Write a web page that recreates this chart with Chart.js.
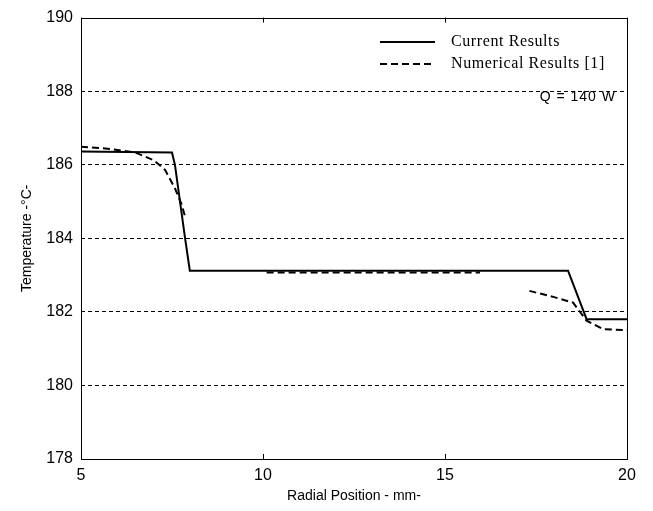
<!DOCTYPE html>
<html>
<head>
<meta charset="utf-8">
<script src="https://cdn.jsdelivr.net/npm/chart.js@4/dist/chart.umd.min.js"></script>
<style>
html,body{margin:0;padding:0;background:#fff;}
#wrap{width:653px;height:511px;position:relative;}
</style>
</head>
<body>
<div id="wrap"><canvas id="c" width="653" height="511"></canvas></div>
<script>
// ---- data ----
const currentX = [5, 7.5, 7.58, 7.86, 7.99, 18.38, 18.89, 20];
const currentY = [186.36, 186.33, 186.0, 184.0, 183.12, 183.12, 181.8, 181.8];

const numericalX = [5, 5.8, 6.5, 7.0, 7.31, 7.58, 7.77, 7.87, null, 10.1, 15.96, null, 17.32, 18.0, 18.52, 18.89, 19.35, 20];
const numericalY = [186.49, 186.43, 186.33, 186.12, 185.86, 185.36, 184.91, 184.55, null, 183.07, 183.07, null, 182.57, 182.4, 182.25, 181.76, 181.53, 181.5];

const xTicks = [5, 10, 15, 20];
const yTicks = [178, 180, 182, 184, 186, 188, 190];

const seriesNames = ['Current Results', 'Numerical Results [1]'];
const xTitle = 'Radial Position - mm-';
const yTitle = 'Temperature -°C-';
const annotationText = 'Q = 140 W';

function toPoints(xs, ys){
  return xs.map((x,i)=> x===null ? {x:null,y:null} : {x:x, y:ys[i]});
}

const framePlugin = {
  id:'frame',
  afterDatasetsDraw(chart){
    const {ctx, chartArea:a, scales} = chart;
    ctx.save();
    ctx.strokeStyle = '#000';
    ctx.lineWidth = 1;
    ctx.setLineDash([]);
    ctx.strokeRect(Math.round(a.left)+0.5, Math.round(a.top)+0.5, Math.round(a.right-a.left), Math.round(a.bottom-a.top));
    // inward ticks on x axis (bottom and top)
    ctx.beginPath();
    scales.x.ticks.forEach(t=>{
      const px = Math.round(scales.x.getPixelForValue(t.value))+0.5;
      ctx.moveTo(px, a.bottom); ctx.lineTo(px, a.bottom-5);
      ctx.moveTo(px, a.top); ctx.lineTo(px, a.top+5);
    });
    ctx.stroke();
    // legend
    const ds = chart.data.datasets;
    const lx1 = 380, lx2 = 435, tx = 451;
    const rows = [42, 64];
    ds.forEach((d,i)=>{
      ctx.beginPath();
      ctx.lineWidth = d.borderWidth;
      ctx.strokeStyle = d.borderColor;
      ctx.setLineDash(d.borderDash || []);
      ctx.moveTo(lx1, rows[i]); ctx.lineTo(lx2, rows[i]);
      ctx.stroke();
      ctx.setLineDash([]);
      ctx.fillStyle = '#000';
      ctx.font = '16px "Liberation Serif", "Times New Roman", serif';
      ctx.letterSpacing = '0.6px';
      ctx.textBaseline = 'middle';
      ctx.textAlign = 'left';
      ctx.fillText(d.label, tx, rows[i]);
    });
    ctx.font = '14px "Liberation Sans", Arial, sans-serif';
    ctx.letterSpacing = '1px';
    ctx.textAlign = 'right';
    ctx.textBaseline = 'middle';
    ctx.fillText(annotationText, 616, 97);
    ctx.letterSpacing = '0px';
    ctx.restore();
  }
};

new Chart(document.getElementById('c'), {
  type:'line',
  data:{
    datasets:[
      {label:seriesNames[0], data:toPoints(currentX,currentY), borderColor:'#000', borderWidth:2, pointRadius:0, fill:false, tension:0, spanGaps:false},
      {label:seriesNames[1], data:toPoints(numericalX,numericalY), borderColor:'#000', borderWidth:2, borderDash:[7,4], pointRadius:0, fill:false, tension:0, spanGaps:false}
    ]
  },
  options:{
    responsive:false,
    animation:false,
    layout:{padding:{left:0, top:15, right:26, bottom:0}},
    plugins:{legend:{display:false}, tooltip:{enabled:false}},
    scales:{
      x:{
        type:'linear', min:5, max:20,
        afterBuildTicks(s){ s.ticks = xTicks.map(v=>({value:v})); },
        afterFit(s){ s.height = 52; },
        grid:{display:false, drawTicks:false},
        border:{display:false},
        ticks:{color:'#000', font:{family:'"Liberation Sans", Arial, sans-serif', size:16}, padding:7, maxRotation:0},
        title:{display:true, text:xTitle, color:'#000', font:{family:'"Liberation Sans", Arial, sans-serif', size:14}, padding:{top:0,bottom:6}}
      },
      y:{
        type:'linear', min:178, max:190,
        afterBuildTicks(s){ s.ticks = yTicks.map(v=>({value:v})); },
        afterFit(s){ s.width = 81; },
        grid:{drawTicks:false, color:(c)=> (c.tick && (c.tick.value===178 || c.tick.value===190)) ? 'rgba(0,0,0,0)' : '#000', lineWidth:1},
        border:{display:false, dash:[4,3]},
        ticks:{color:'#000', font:{family:'"Liberation Sans", Arial, sans-serif', size:16}, padding:8},
        title:{display:true, text:yTitle, color:'#000', font:{family:'"Liberation Sans", Arial, sans-serif', size:14}, padding:{top:19,bottom:0}}
      }
    }
  },
  plugins:[framePlugin]
});
</script>
</body>
</html>
